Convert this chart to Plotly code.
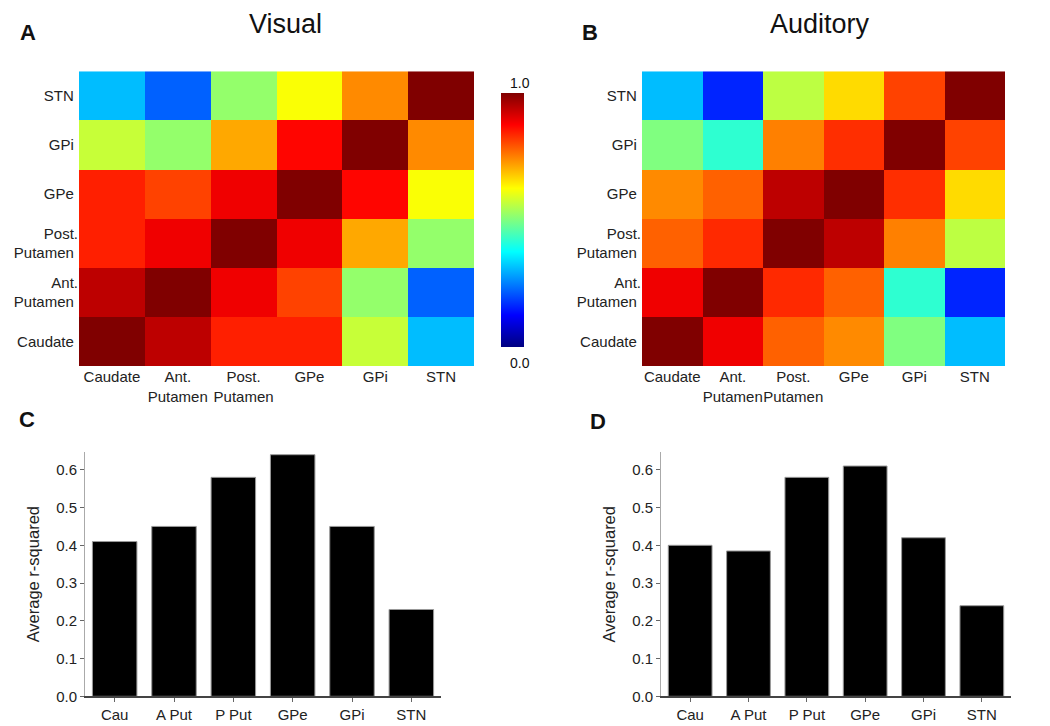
import plotly.graph_objects as go

regions = ["Caudate", "Ant.<br>Putamen", "Post.<br>Putamen", "GPe", "GPi", "STN"]
bar_labels = ["Cau", "A Put", "P Put", "GPe", "GPi", "STN"]

# rows bottom->top: Caudate, Ant.Put, Post.Put, GPe, GPi, STN ; columns same order
visual_z = [
    [1.00, 0.94, 0.845, 0.845, 0.57, 0.31],
    [0.94, 1.00, 0.89, 0.81, 0.52, 0.22],
    [0.845, 0.89, 1.00, 0.89, 0.71, 0.52],
    [0.845, 0.81, 0.89, 1.00, 0.87, 0.62],
    [0.57, 0.52, 0.71, 0.87, 1.00, 0.74],
    [0.31, 0.22, 0.52, 0.62, 0.74, 1.00],
]
auditory_z = [
    [1.00, 0.89, 0.78, 0.74, 0.50, 0.31],
    [0.89, 1.00, 0.835, 0.78, 0.42, 0.16],
    [0.78, 0.835, 1.00, 0.94, 0.75, 0.56],
    [0.74, 0.78, 0.94, 1.00, 0.83, 0.66],
    [0.50, 0.42, 0.75, 0.83, 1.00, 0.81],
    [0.31, 0.16, 0.56, 0.66, 0.81, 1.00],
]
visual_r2 = [0.41, 0.45, 0.58, 0.64, 0.45, 0.23]
auditory_r2 = [0.40, 0.385, 0.58, 0.61, 0.42, 0.24]

jet = [[0, "#000080"], [0.125, "#0000ff"], [0.375, "#00ffff"],
       [0.625, "#ffff00"], [0.875, "#ff0000"], [1, "#800000"]]

FONT = "Liberation Sans, Arial, sans-serif"
TXT = "#222222"

fig = go.Figure()
fig.add_trace(go.Heatmap(z=visual_z, x=regions, y=regions, colorscale=jet, zmin=0, zmax=1,
                         xaxis="x", yaxis="y", showscale=True,
                         colorbar=dict(x=493/1050, xanchor="left", xref="paper",
                                       y=1-214/726, yanchor="middle", len=257/726,
                                       thickness=23, thicknessmode="pixels", lenmode="fraction",
                                       xpad=0, ypad=0,
                                       showticklabels=False, ticks="", outlinewidth=0)))
fig.add_trace(go.Heatmap(z=auditory_z, x=regions, y=regions, colorscale=jet, zmin=0, zmax=1,
                         xaxis="x2", yaxis="y2", showscale=False))
fig.add_trace(go.Bar(x=bar_labels, y=visual_r2, xaxis="x3", yaxis="y3", width=0.75,
                     marker=dict(color="black", line=dict(color="#999999", width=1))))
fig.add_trace(go.Bar(x=bar_labels, y=auditory_r2, xaxis="x4", yaxis="y4", width=0.75,
                     marker=dict(color="black", line=dict(color="#999999", width=1))))

hm_y = [1-362/726, 1-64/726]
bar_y = [1-696/726, 1-449/726]
tickfont = dict(family=FONT, size=15, color=TXT)

def hm_axes(xd, xa, ya):
    return (dict(domain=xd, anchor=ya, showgrid=False, zeroline=False, ticks="",
                 tickfont=tickfont, showline=False, tickangle=0),
            dict(domain=hm_y, anchor=xa, showgrid=False, zeroline=False, ticks="",
                 tickfont=tickfont, showline=False, ticksuffix=" "))

def bar_axes(xd, xa, ya):
    return (dict(domain=xd, anchor=ya, showgrid=False, zeroline=False, ticks="outside",
                 ticklen=4, tickcolor="#666", tickfont=tickfont, showline=True, tickangle=0,
                 linecolor="#444", linewidth=1.5, range=[-0.5, 5.5]),
            dict(domain=bar_y, anchor=xa, showgrid=False, zeroline=False, ticks="outside",
                 ticklen=4, tickcolor="#666", tickfont=tickfont, showline=True,
                 linecolor="#aaa", linewidth=1, range=[0, 0.647], dtick=0.1,
                 tickformat=".1f",
                 title=dict(text="Average r-squared", font=dict(family=FONT, size=16.5, color=TXT),
                            standoff=12)))

x1, y1 = hm_axes([71/1050, 466/1050], "x", "y")
x2, y2 = hm_axes([634/1050, 997/1050], "x2", "y2")
x3, y3 = bar_axes([77/1050, 433/1050], "x3", "y3")
x4, y4 = bar_axes([653/1050, 1003/1050], "x4", "y4")

fig.update_layout(
    width=1050, height=726, margin=dict(l=0, r=0, t=0, b=0),
    paper_bgcolor="white", plot_bgcolor="white", showlegend=False,
    font=dict(family=FONT, color=TXT),
    xaxis=x1, yaxis=y1, xaxis2=x2, yaxis2=y2, xaxis3=x3, yaxis3=y3, xaxis4=x4, yaxis4=y4,
)

ann = [
    dict(text="<b>A</b>", x=20/1050, y=1-25/726, size=22),
    dict(text="<b>B</b>", x=582/1050, y=1-25/726, size=22),
    dict(text="<b>C</b>", x=19/1050, y=1-416/726, size=22),
    dict(text="<b>D</b>", x=590/1050, y=1-418/726, size=22),
    dict(text="Visual", x=277/1050, y=1-16/726, size=27),
    dict(text="Auditory", x=812/1050, y=1-16/726, size=27),
    dict(text="1.0", x=512/1050, y=1-76/726, size=14),
    dict(text="0.0", x=512/1050, y=1-359/726, size=14),
]
for a in ann:
    fig.add_annotation(text=a["text"], x=a["x"], y=a["y"], xref="paper", yref="paper",
                       showarrow=False, xanchor="center", yanchor="middle",
                       font=dict(family=FONT, size=a["size"], color="#111"))

fig.write_html("out.html")
